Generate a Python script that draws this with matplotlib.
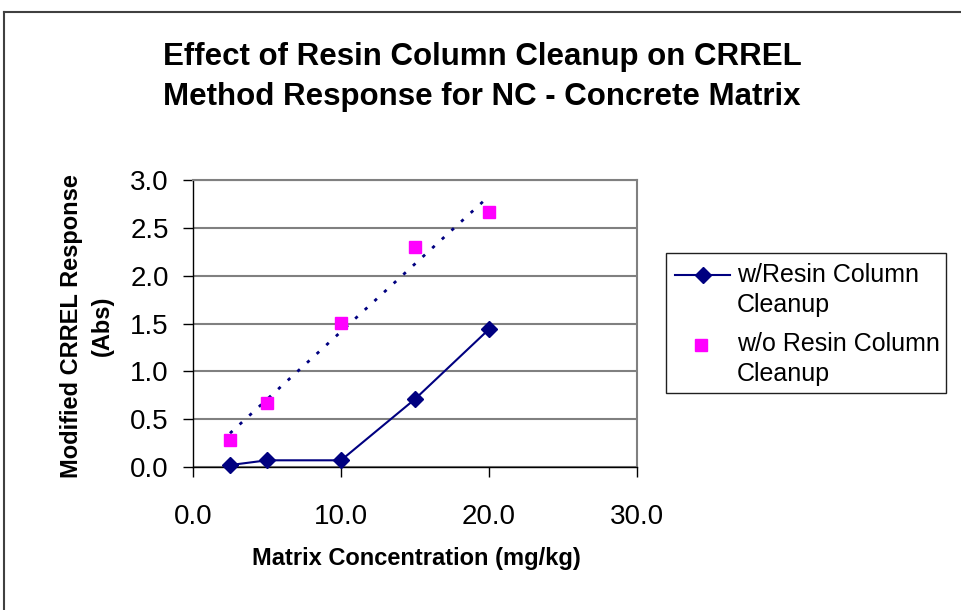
import numpy as np
import matplotlib
matplotlib.use("Agg")
import matplotlib.pyplot as plt
from matplotlib.lines import Line2D
from matplotlib.patches import Rectangle

plt.rcParams['font.family'] = ['Liberation Sans', 'DejaVu Sans']

conc = [2.5, 5.0, 10.0, 15.0, 20.0]
with_resin = [0.02, 0.07, 0.07, 0.71, 1.44]
without_resin = [0.28, 0.67, 1.51, 2.30, 2.67]
xticks = [0.0, 10.0, 20.0, 30.0]
yticks = [0.0, 0.5, 1.0, 1.5, 2.0, 2.5, 3.0]
series_labels = [['w/Resin Column', 'Cleanup'], ['w/o Resin Column', 'Cleanup']]

W, H = 961, 610
fig = plt.figure(figsize=(W / 100, H / 100), dpi=100)
ax = fig.add_axes([193 / W, 1 - 467 / H, (637 - 193) / W, (467 - 180) / H])

navy = '#000080'
magenta = '#FF00FF'

ax.plot(conc, with_resin, color=navy, lw=1.5, marker='D', ms=8,
        mfc=navy, mec=navy, zorder=4, clip_on=False)
ax.plot(conc, without_resin, ls='none', marker='s', ms=8.5,
        mfc=magenta, mec=magenta, zorder=3, clip_on=False)

# linear trend line of the w/o series
k, b = np.polyfit(conc, without_resin, 1)
xt = np.array([conc[0], conc[-1]])
ax.plot(xt, k * xt + b, color=navy, lw=2, ls=(0, (1.2, 3.5)), zorder=2)

ax.set_xlim(0, 30)
ax.set_ylim(0, 3)
ax.set_xticks(xticks)
ax.set_xticklabels([f'{v:.1f}' for v in xticks])
ax.set_yticks(yticks)
ax.set_yticklabels([f'{v:.1f}' for v in yticks])
ax.tick_params(axis='both', direction='out', length=7.5, width=1,
               labelsize=20, color='black')
ax.tick_params(axis='x', pad=19)
ax.tick_params(axis='y', pad=10)
ax.grid(axis='y', color='#808080', lw=1.5)
ax.set_axisbelow(True)
for s in ['top', 'right']:
    ax.spines[s].set_color('#808080')
    ax.spines[s].set_linewidth(1.5)
for s in ['left', 'bottom']:
    ax.spines[s].set_color('black')
    ax.spines[s].set_linewidth(1)

fig.text(416 / W, 1 - 558 / H, 'Matrix Concentration (mg/kg)', ha='center',
         va='center', fontsize=17, fontweight='bold')
fig.text(72 / W, 1 - 326 / H, 'Modified CRREL Response', ha='center',
         va='center', rotation=90, fontsize=17, fontweight='bold')
fig.text(102 / W, 1 - 326 / H, '(Abs)', ha='center',
         va='center', rotation=90, fontsize=17, fontweight='bold')

fig.text(482 / W, 1 - 57 / H, 'Effect of Resin Column Cleanup on CRREL',
         ha='center', va='center', fontsize=22.5, fontweight='bold')
fig.text(482 / W, 1 - 97 / H, 'Method Response for NC - Concrete Matrix',
         ha='center', va='center', fontsize=22.5, fontweight='bold')

# outer frame
fig.add_artist(Line2D([4 / W, 4 / W], [0, 1 - 12 / H], color='#404040', lw=1.5,
                      transform=fig.transFigure))
fig.add_artist(Line2D([4 / W, 1], [1 - 12 / H, 1 - 12 / H], color='#404040', lw=1.5,
                      transform=fig.transFigure))

# legend (drawn manually to match the layout)
def fx(px):
    return px / W

def fy(py):
    return 1 - py / H

fig.add_artist(Rectangle((fx(666), fy(393)), (946 - 666) / W, (393 - 253) / H,
                         transform=fig.transFigure, fill=True, facecolor='white',
                         edgecolor='#202020', lw=1))
fig.add_artist(Line2D([fx(675), fx(730)], [fy(275), fy(275)], color=navy, lw=1.5,
                      transform=fig.transFigure))
fig.add_artist(Line2D([fx(702.5)], [fy(275)], ls='none', marker='D', ms=8,
                      mfc=navy, mec=navy, transform=fig.transFigure))
fig.add_artist(Line2D([fx(701)], [fy(345)], ls='none', marker='s', ms=8.5,
                      mfc=magenta, mec=magenta, transform=fig.transFigure))
baselines = [[282, 312], [351, 381]]
for lines, bls in zip(series_labels, baselines):
    for txt, bl in zip(lines, bls):
        fig.text(fx(737), fy(bl), txt, ha='left', va='baseline', fontsize=18)

fig.savefig('out.png', dpi=100)
